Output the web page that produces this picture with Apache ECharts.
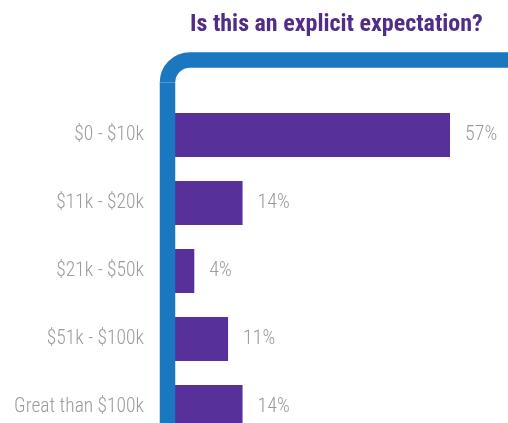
<!DOCTYPE html>
<html><head><meta charset="utf-8">
<script src="https://cdn.jsdelivr.net/npm/echarts@6/dist/echarts.min.js"></script>
<style>html,body{margin:0;padding:0;background:#fff}#c{width:508px;height:423px}</style>
</head><body><div id="c"></div>
<script>
const categories = ['$0 - $10k', '$11k - $20k', '$21k - $50k', '$51k - $100k', 'Great than $100k'];
const values = [57, 14, 4, 11, 14];
const titleText = 'Is this an explicit expectation?';

const blue = '#1b77c0';
const grey = '#9b9b9b';
const labelFont = '"Roboto Condensed", sans-serif';
const chart = echarts.init(document.getElementById('c'));
chart.setOption({
  animation: false,
  title: {
    text: titleText,
    left: 185, top: 8,
    textStyle: { color: '#522d87', fontSize: 24, fontWeight: 'bold', fontFamily: '"Roboto Condensed", sans-serif' }
  },
  grid: { left: 175, top: 101, right: 43.5, bottom: -18, containLabel: false, outerBoundsMode: 'none' },
  xAxis: { type: 'value', min: 0, max: 60, show: false },
  yAxis: {
    type: 'category', data: categories, inverse: true,
    axisLine: { show: false }, axisTick: { show: false },
    axisLabel: { margin: 31, color: grey, fontSize: 19.5, fontWeight: 300, fontFamily: labelFont }
  },
  series: [{
    type: 'bar', data: values, barWidth: 44,
    itemStyle: { color: '#58309a' },
    label: { show: true, position: 'right', distance: 15, formatter: '{c}%', color: grey, fontSize: 20, fontWeight: 300, fontFamily: labelFont }
  }],
  graphic: [
    { type: 'line', z: 10, shape: { x1: 167.5, y1: 440, x2: 167.5, y2: 82.5 }, style: { stroke: blue, lineWidth: 15.5, lineCap: 'butt' } },
    { type: 'arc', z: 10, shape: { cx: 190, cy: 82.5, r: 22.5, startAngle: Math.PI, endAngle: Math.PI * 1.5, clockwise: true }, style: { fill: null, stroke: blue, lineWidth: 15.5, lineCap: 'butt' } },
    { type: 'line', z: 10, shape: { x1: 190, y1: 60, x2: 520, y2: 60 }, style: { stroke: blue, lineWidth: 15.5, lineCap: 'butt' } }
  ]
});
</script></body></html>
